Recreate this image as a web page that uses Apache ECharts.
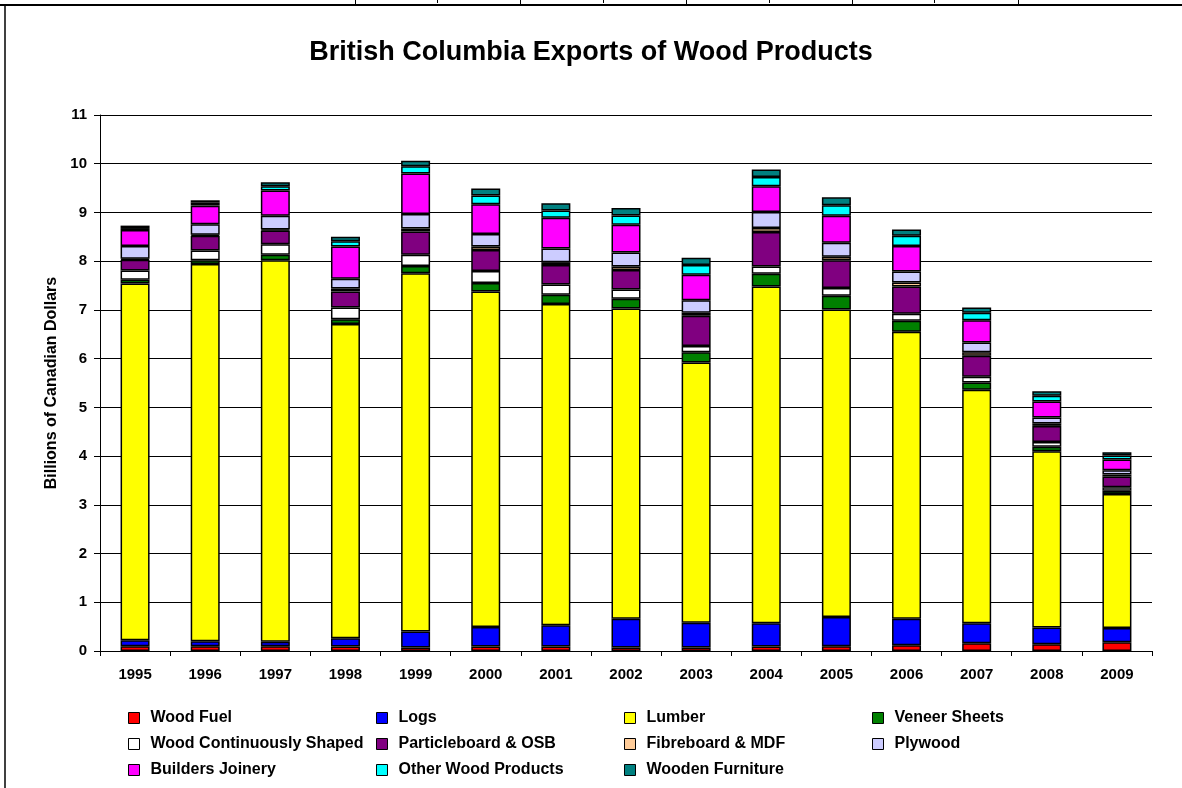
<!DOCTYPE html>
<html>
<head>
<meta charset="utf-8">
<script src="https://cdn.jsdelivr.net/npm/echarts@6/dist/echarts.min.js"></script>
<style>
html,body{margin:0;padding:0;background:#fff;}
#chart{width:1182px;height:788px;}
</style>
</head>
<body>
<div id="chart"></div>
<script>
var years = ['1995','1996','1997','1998','1999','2000','2001','2002','2003','2004','2005','2006','2007','2008','2009'];
var yTicks = [0,1,2,3,4,5,6,7,8,9,10,11];

var woodFuel      = [0.10,0.10,0.10,0.09,0.07,0.09,0.09,0.07,0.07,0.09,0.10,0.12,0.16,0.14,0.18];
var logs          = [0.12,0.10,0.09,0.17,0.33,0.40,0.44,0.59,0.51,0.48,0.60,0.54,0.41,0.34,0.29];
var lumber        = [7.32,7.74,7.83,6.45,7.35,6.89,6.59,6.37,5.34,6.91,6.31,5.89,4.79,3.62,2.75];
var veneerSheets  = [0.08,0.08,0.11,0.10,0.15,0.17,0.19,0.20,0.21,0.26,0.28,0.23,0.15,0.09,0.07];
var woodCont      = [0.19,0.20,0.22,0.24,0.23,0.25,0.21,0.19,0.13,0.15,0.16,0.14,0.12,0.10,0.07];
var particleboard = [0.22,0.30,0.28,0.33,0.48,0.43,0.40,0.40,0.62,0.71,0.57,0.56,0.43,0.33,0.22];
var fibreboard    = [0.02,0.02,0.02,0.06,0.06,0.07,0.06,0.07,0.06,0.08,0.07,0.08,0.07,0.05,0.04];
var plywood       = [0.26,0.22,0.28,0.20,0.30,0.26,0.28,0.29,0.26,0.33,0.29,0.23,0.20,0.12,0.09];
var joinery       = [0.33,0.38,0.52,0.66,0.83,0.61,0.63,0.57,0.52,0.53,0.55,0.52,0.46,0.33,0.22];
var otherWood     = [0.04,0.06,0.09,0.11,0.15,0.18,0.15,0.19,0.20,0.19,0.22,0.21,0.15,0.12,0.08];
var furniture     = [0.05,0.05,0.08,0.09,0.11,0.14,0.15,0.15,0.15,0.15,0.16,0.13,0.11,0.09,0.07];

var seriesNames = ['Wood Fuel','Logs','Lumber','Veneer Sheets','Wood Continuously Shaped','Particleboard & OSB','Fibreboard & MDF','Plywood','Builders Joinery','Other Wood Products','Wooden Furniture'];
var seriesData = [woodFuel,logs,lumber,veneerSheets,woodCont,particleboard,fibreboard,plywood,joinery,otherWood,furniture];
var seriesColors = ['#FF0000','#0000FF','#FFFF00','#008000','#FFFFFF','#800080','#FFCC99','#CCCCFF','#FF00FF','#00FFFF','#008080'];

var FONT = '"Liberation Sans", Arial, sans-serif';

var series = seriesNames.map(function(n,i){
  return {
    name: n, type: 'bar', stack: 'total',
    data: seriesData[i],
    barWidth: 29,
    itemStyle: {color: seriesColors[i], borderColor: '#000', borderWidth: 1.5},
    emphasis: {disabled: true}
  };
});

var legendCols = [[0,4,8],[1,5,9],[2,6,10],[3,7]];
var legendLeft = [128,376,624,872];
var legends = legendCols.map(function(col,k){
  return {
    orient: 'vertical',
    left: legendLeft[k], top: 709, padding: 0,
    itemWidth: 11, itemHeight: 11, itemGap: 8,
    icon: 'rect',
    data: col.map(function(i){return seriesNames[i];}),
    itemStyle: {borderColor: '#000', borderWidth: 1},
    textStyle: {fontFamily: FONT, fontWeight: 'bold', fontSize: 16, lineHeight: 18, color: '#000', padding: [0,0,0,6]},
    selectedMode: false
  };
});

var chart = echarts.init(document.getElementById('chart'), null, {renderer: 'canvas'});
chart.setOption({
  animation: false,
  backgroundColor: '#fff',
  title: {
    text: 'British Columbia Exports of Wood Products',
    left: 'center', top: 34,
    textStyle: {fontFamily: FONT, fontWeight: 'bold', fontSize: 27, color: '#000'}
  },
  legend: legends,
  grid: {left: 100, right: 30, top: 115, bottom: 137, containLabel: false},
  xAxis: {
    type: 'category', data: years,
    axisLine: {lineStyle: {color: '#000', width: 1}},
    axisTick: {show: true, length: 5, lineStyle: {color: '#000'}},
    axisLabel: {fontFamily: FONT, fontWeight: 'bold', fontSize: 15, color: '#000', margin: 16},
    splitLine: {show: false}
  },
  yAxis: {
    type: 'value', min: yTicks[0], max: yTicks[yTicks.length-1], interval: 1,
    name: 'Billions of Canadian Dollars', nameLocation: 'middle', nameGap: 37,
    nameTextStyle: {fontFamily: FONT, fontWeight: 'bold', fontSize: 16, color: '#000'},
    axisLine: {show: true, lineStyle: {color: '#000', width: 1}},
    axisTick: {show: true, inside: false, length: 6, lineStyle: {color: '#000'}},
    axisLabel: {fontFamily: FONT, fontWeight: 'bold', fontSize: 15, color: '#000', margin: 13},
    splitLine: {show: true, lineStyle: {color: '#000', width: 1}}
  },
  graphic: [
    {type:'line', shape:{x1:0,y1:5,x2:1182,y2:5}, style:{stroke:'#000', lineWidth:2}},
    {type:'line', shape:{x1:5,y1:5,x2:5,y2:788}, style:{stroke:'#000', lineWidth:1.5}},
    {type:'line', shape:{x1:355.5,y1:0,x2:355.5,y2:5}, style:{stroke:'#000', lineWidth:1}},
    {type:'line', shape:{x1:520.5,y1:0,x2:520.5,y2:5}, style:{stroke:'#000', lineWidth:1}},
    {type:'line', shape:{x1:686.5,y1:0,x2:686.5,y2:5}, style:{stroke:'#000', lineWidth:1}},
    {type:'line', shape:{x1:852.5,y1:0,x2:852.5,y2:5}, style:{stroke:'#000', lineWidth:1}},
    {type:'line', shape:{x1:1018.5,y1:0,x2:1018.5,y2:5}, style:{stroke:'#000', lineWidth:1}},
    {type:'line', shape:{x1:437.5,y1:0,x2:437.5,y2:3}, style:{stroke:'#000', lineWidth:1}},
    {type:'line', shape:{x1:603.5,y1:0,x2:603.5,y2:3}, style:{stroke:'#000', lineWidth:1}},
    {type:'line', shape:{x1:769.5,y1:0,x2:769.5,y2:3}, style:{stroke:'#000', lineWidth:1}},
    {type:'line', shape:{x1:934.5,y1:0,x2:934.5,y2:3}, style:{stroke:'#000', lineWidth:1}}
  ],
  series: series
});
</script>
</body>
</html>
